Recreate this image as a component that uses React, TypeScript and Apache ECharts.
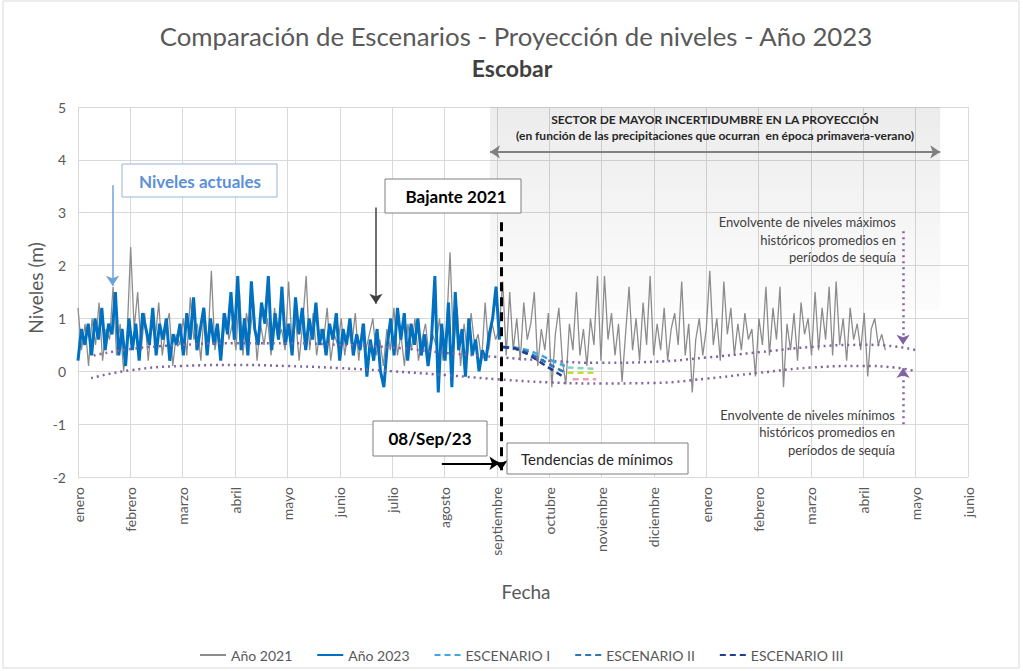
import { useEffect, useRef } from 'react';
import * as echarts from 'echarts';

const MONTHS = ['enero', 'febrero', 'marzo', 'abril', 'mayo', 'junio', 'julio', 'agosto', 'septiembre', 'octubre', 'noviembre', 'diciembre', 'enero', 'febrero', 'marzo', 'abril', 'mayo', 'junio'];

// Año 2021: valores cada ~2 días desde enero hasta fines de abril del año siguiente
const NIVELES_2021 = [
  1.2, 0.4, 0.9, 0.1, 1.0, 0.5, 1.3, 0.2, 0.8, 0.6, 1.6, 0.3, 0.9, 0.0, 0.7,
  2.35, 0.8, 1.5, 0.4, 1.1, 0.2, 0.9, 0.6, 1.3, 0.3, 0.8, 1.1, 0.1, 0.7, 0.5,
  1.0, 0.3, 1.4, 0.6, 0.9, 0.2, 1.2, 0.5, 1.9, 0.4, 0.8, 0.3, 1.1, 0.6, 0.9,
  0.4, 1.5, 0.3, 1.1, 0.7, 1.3, 0.2, 0.9, 0.5, 1.0, 0.3, 1.2, 0.6, 0.8, 0.4,
  1.7, 0.5, 1.0, 0.2, 0.9, 1.8, 0.4, 1.1, 0.3, 0.8, 0.6, 1.2, 0.2, 0.7, 0.5,
  1.0, 0.3, 0.8, 0.5, 1.1, 0.2, 0.9, 0.4, 0.7, 1.0, 0.3, 0.6, 0.1, 0.8, 0.4,
  1.2, 0.3, 0.7, 0.1, 0.9, 0.4, 1.0, 0.2, 0.6, 0.9, 0.3, 0.7, 0.5, 1.0, 0.2,
  0.8, 2.25, 0.4, 1.2, 0.1, 0.9, 0.3, 1.1, 0.5, 0.7, 0.2, 1.3, 0.4, 0.9, 0.6,
  0.8, 1.7, 0.3, 1.5, 0.4, 1.0, 0.2, 1.3, 0.6, 0.9, 1.5, 0.1, 0.8, 0.4, 1.1,
  -0.3, 0.7, 1.2, 0.2, -0.25, 0.9, 0.4, 1.5, 0.3, 0.8, 0.1, 1.0, 0.5, 1.8, 0.2,
  1.8, 0.6, 1.1, 0.3, 0.9, -0.2, 0.7, 1.6, 0.4, 1.0, 0.2, 1.3, 0.5, 1.8, 0.3,
  0.9, 0.4, 1.2, 0.2, 0.8, 1.1, 0.5, 1.7, 0.3, 0.9, -0.4, 0.6, 1.0, 0.3, 0.8,
  1.9, 0.5, 1.0, 0.2, 1.7, 0.7, 1.2, 0.3, 0.9, 0.4, 1.1, 0.6, 0.8, -0.1, 1.0,
  0.5, 1.6, 0.3, 1.2, 0.6, 1.6, -0.3, 0.9, 0.4, 1.1, 0.2, 1.3, 0.7, 1.0, 0.3,
  1.5, 0.4, 1.2, 0.6, 1.6, 0.3, 1.7, 0.5, 1.0, 0.2, 1.2, 0.6, 0.9, 0.4, 1.1,
  -0.1, 0.8, 1.0, 0.5, 0.7, 0.4,
];
const SPAN_2021 = 15.42; // meses cubiertos

// Año 2023: valores cada ~2 días desde enero hasta el 08/Sep
const NIVELES_2023 = [
  0.2, 0.8, 0.5, 0.9, 0.3, 1.0, 0.6, 1.2, 0.4, 0.9, 0.7, 1.5, 0.3, 0.8, 0.1,
  1.0, 0.4, 0.9, 0.2, 1.1, 0.8, 0.5, 1.2, 0.3, 0.9, 0.6, 1.0, 0.2, 0.7, 0.5,
  0.9, 0.3, 1.1, 0.6, 1.4, 0.4, 0.8, 1.2, 0.3, 1.0, 0.5, 0.9, 0.2, 1.1, 0.7,
  1.5, 0.6, 1.8, 0.4, 1.0, 0.3, 1.7, 0.8, 0.5, 1.3, 0.9, 1.8, 0.4, 1.1, 0.6,
  1.6, 0.5, 0.9, 0.3, 1.4, 0.7, 1.2, 0.4, 1.0, 0.6, 1.3, 0.5, 0.8, 0.3, 0.9,
  0.6, 1.1, 0.2, 0.8, 0.5, 1.0, 0.3, 0.7, 0.4, 0.9, -0.1, 0.6, 0.2, 0.8, 0.0,
  -0.3, 0.5, 1.0, 0.3, 1.2, 0.6, 1.1, 0.2, 0.9, 0.5, 1.0, 0.3, 0.7, 0.1, 0.6,
  1.8, -0.4, 0.9, 0.2, 1.3, -0.3, 1.5, 0.4, 0.8, -0.1, 1.0, 0.3, 0.6, 0.0, 0.4,
  0.2, 0.7, 1.0, 1.6, 0.6,
];
const SPAN_2023 = 8.05;

// Envolventes (mes, nivel)
const ENV_MAX_X = [0.3, 1, 2, 3, 4, 5, 6, 7, 8, 9, 10, 11, 12, 13, 14, 15, 15.6, 16];
const ENV_MAX_Y = [0.3, 0.42, 0.5, 0.53, 0.53, 0.5, 0.45, 0.35, 0.27, 0.2, 0.16, 0.18, 0.26, 0.36, 0.46, 0.5, 0.47, 0.4];
const ENV_MIN_X = [0.25, 1, 2, 3, 4, 5, 6, 7, 8, 9, 10, 11, 12, 13, 14, 15, 15.6, 16];
const ENV_MIN_Y = [-0.13, 0.02, 0.1, 0.12, 0.1, 0.06, 0.0, -0.07, -0.15, -0.21, -0.23, -0.22, -0.14, -0.03, 0.07, 0.1, 0.07, 0.0];

// Escenarios
const ESC_A_X = [8.12, 8.35, 8.6, 8.85, 9.1, 9.3];
const ESC1_A = [0.46, 0.45, 0.4, 0.3, 0.18, 0.1];
const ESC2_A = [0.46, 0.44, 0.36, 0.22, 0.08, -0.02];
const ESC3_A = [0.46, 0.43, 0.32, 0.16, 0.0, -0.12];
const ESC1_B_X = [9.35, 9.85];
const ESC1_B = [0.07, 0.05];
const ESC2_B_X = [9.35, 9.9];
const ESC2_B = [-0.03, -0.03];
const ESC3_B_X = [9.45, 9.9];
const ESC3_B = [-0.15, -0.15];

const FONT = 'Lato, "Noto Sans", sans-serif';

const pairs = (xs: number[], ys: number[]) => xs.map((x, i) => [x, ys[i]]);
const spread = (vals: number[], span: number) => vals.map((v, i) => [(i * span) / (vals.length - 1), v]);

function arrowSeries(name: string, from: number[], to: number[], color: string, width: number, type: any, both = false) {
  return {
    type: 'line',
    name,
    data: [],
    symbol: 'none',
    silent: true,
    markLine: {
      silent: true,
      animation: false,
      symbol: [both ? 'arrow' : 'none', 'arrow'],
      symbolSize: 10,
      label: { show: false },
      lineStyle: { color, width, type },
      emphasis: { disabled: true },
      data: [[{ coord: from }, { coord: to }]],
    },
  };
}

export default function App() {
  const ref = useRef<HTMLDivElement>(null);
  useEffect(() => {
    if (!ref.current) return;
    const chart = echarts.init(ref.current, undefined, { renderer: 'svg' });
    const dashLine = (name: string, data: number[][], color: string, dash: number[], z = 5) => ({
      type: 'line', name, data, symbol: 'none', z,
      itemStyle: { color },
      lineStyle: { color, width: 2.5, type: dash },
    });
    const option: any = {
      animation: false,
      backgroundColor: '#ffffff',
      textStyle: { fontFamily: FONT },
      grid: { left: 78, right: 55, top: 107, bottom: 194, containLabel: false },
      legend: {
        left: 194,
        top: 643,
        itemWidth: 26,
        itemHeight: 10,
        itemGap: 24,
        itemStyle: { opacity: 0 },
        textStyle: { fontSize: 14, color: '#595959', fontFamily: FONT },
        data: ['Año 2021', 'Año 2023', 'ESCENARIO I', 'ESCENARIO II', 'ESCENARIO III'],
      },
      xAxis: {
        type: 'value', min: 0, max: 17, interval: 1,
        axisLine: { show: true, lineStyle: { color: '#d9d9d9' } },
        axisTick: { show: false },
        splitLine: { show: true, lineStyle: { color: '#d9d9d9' } },
        axisLabel: {
          rotate: 90, margin: 10, fontSize: 14, color: '#595959', fontFamily: FONT,
          formatter: (v: number) => MONTHS[Math.round(v)] ?? '',
        },
      },
      yAxis: {
        type: 'value', min: -2, max: 5, interval: 1,
        axisLine: { show: false },
        axisTick: { show: false },
        splitLine: { show: true, lineStyle: { color: '#d9d9d9' } },
        axisLabel: { margin: 12, fontSize: 14, color: '#595959', fontFamily: FONT },
      },
      series: [
        {
          type: 'line', name: '_sector', data: [], symbol: 'none', silent: true,
          markArea: {
            silent: true,
            itemStyle: {
              color: new echarts.graphic.LinearGradient(0, 0, 0, 1, [
                { offset: 0, color: 'rgba(0,0,0,0.075)' },
                { offset: 1, color: 'rgba(0,0,0,0.01)' },
              ]),
            },
            data: [[{ xAxis: 7.87, yAxis: 5 }, { xAxis: 16.47, yAxis: 1.15 }]],
          },
        },
        {
          type: 'line', name: 'Año 2021', data: spread(NIVELES_2021, SPAN_2021), symbol: 'none', z: 2,
          lineStyle: { color: '#8c8c8c', width: 1.3 }, itemStyle: { color: '#8c8c8c' },
        },
        {
          type: 'line', name: 'Año 2023', data: spread(NIVELES_2023, SPAN_2023), symbol: 'none', z: 3,
          lineStyle: { color: '#0070c0', width: 3 }, itemStyle: { color: '#0070c0' },
        },
        {
          type: 'line', name: '_envmax', data: pairs(ENV_MAX_X, ENV_MAX_Y), symbol: 'none', smooth: true, z: 4,
          lineStyle: { color: '#8064a2', width: 2.5, type: [2, 4] },
        },
        {
          type: 'line', name: '_envmin', data: pairs(ENV_MIN_X, ENV_MIN_Y), symbol: 'none', smooth: true, z: 4,
          lineStyle: { color: '#8064a2', width: 2.5, type: [2, 4] },
        },
        dashLine('ESCENARIO I', pairs(ESC_A_X, ESC1_A), '#43a6df', [6, 4]),
        dashLine('ESCENARIO I', pairs(ESC1_B_X, ESC1_B), '#86d3c9', [6, 4]),
        dashLine('ESCENARIO II', pairs(ESC_A_X, ESC2_A), '#2e75b6', [6, 4]),
        dashLine('ESCENARIO II', pairs(ESC2_B_X, ESC2_B), '#c6dc3a', [6, 4]),
        dashLine('ESCENARIO III', pairs(ESC_A_X, ESC3_A), '#1f3f8f', [6, 4]),
        dashLine('ESCENARIO III', pairs(ESC3_B_X, ESC3_B), '#e8a0b4', [6, 4]),
        arrowSeries('_sep', [8.08, 2.82], [8.08, -1.87], '#000000', 3, [9, 6]),
        arrowSeries('_arrSector', [7.87, 4.15], [16.47, 4.15], '#808080', 2, 'solid', true),
        arrowSeries('_arrActuales', [0.66, 3.52], [0.66, 1.62], '#6fa0dc', 1.5, 'solid'),
        arrowSeries('_arrBajante', [5.69, 3.1], [5.69, 1.28], '#404040', 1.5, 'solid'),
        arrowSeries('_arrFecha', [6.95, -1.74], [8.05, -1.74], '#000000', 2, 'solid'),
        arrowSeries('_arrEnvMax', [15.76, 2.65], [15.76, 0.5], '#8064a2', 2.5, [2, 4]),
        arrowSeries('_arrEnvMin', [15.76, -1.0], [15.76, 0.06], '#8064a2', 2.5, [2, 4]),
      ],
      graphic: [
        { type: 'rect', shape: { x: 3, y: 1, width: 1016, height: 667 }, style: { fill: 'none', stroke: '#d9d9d9', lineWidth: 1 }, z: 0 },
        { type: 'text', x: 516, y: 36, z: 100, style: { text: 'Comparación de Escenarios - Proyección de niveles - Año 2023', align: 'center', verticalAlign: 'middle', fontSize: 25.8, fontFamily: FONT, fill: '#595959' } },
        { type: 'text', x: 512, y: 68, z: 100, style: { text: 'Escobar', align: 'center', verticalAlign: 'middle', fontSize: 23, fontWeight: 'bold', fontFamily: FONT, fill: '#404040' } },
        { type: 'text', x: 35, y: 288, rotation: Math.PI / 2, z: 100, style: { text: 'Niveles (m)', align: 'center', verticalAlign: 'middle', fontSize: 19, fontFamily: FONT, fill: '#595959' } },
        { type: 'text', x: 526, y: 591, z: 100, style: { text: 'Fecha', align: 'center', verticalAlign: 'middle', fontSize: 19, fontFamily: FONT, fill: '#595959' } },
        { type: 'text', x: 715, y: 119, z: 100, style: { text: 'SECTOR DE MAYOR INCERTIDUMBRE EN LA PROYECCIÓN', align: 'center', verticalAlign: 'middle', fontSize: 12, fontWeight: 'bold', fontFamily: FONT, fill: '#262626' } },
        { type: 'text', x: 715, y: 135, z: 100, style: { text: '(en función de las precipitaciones que ocurran  en época primavera-verano)', align: 'center', verticalAlign: 'middle', fontSize: 12, fontWeight: 'bold', fontFamily: FONT, fill: '#262626' } },
        { type: 'rect', z: 100, shape: { x: 122, y: 164, width: 155, height: 33 }, style: { fill: '#ffffff', stroke: '#95b3d7', lineWidth: 1 } },
        { type: 'text', x: 200, y: 181, z: 101, style: { text: 'Niveles actuales', align: 'center', verticalAlign: 'middle', fontSize: 17, fontWeight: 'bold', fontFamily: FONT, fill: '#5b8fd8' } },
        { type: 'rect', z: 100, shape: { x: 385, y: 179, width: 136, height: 34 }, style: { fill: '#ffffff', stroke: '#7f7f7f', lineWidth: 1 } },
        { type: 'text', x: 456, y: 196, z: 101, style: { text: 'Bajante 2021', align: 'center', verticalAlign: 'middle', fontSize: 17, fontWeight: 'bold', fontFamily: FONT, fill: '#000000' } },
        { type: 'rect', z: 100, shape: { x: 373, y: 421, width: 114, height: 35 }, style: { fill: '#ffffff', stroke: '#7f7f7f', lineWidth: 1 } },
        { type: 'text', x: 430, y: 438, z: 101, style: { text: '08/Sep/23', align: 'center', verticalAlign: 'middle', fontSize: 17, fontWeight: 'bold', fontFamily: FONT, fill: '#000000' } },
        { type: 'rect', z: 100, shape: { x: 507, y: 443, width: 181, height: 31 }, style: { fill: '#ffffff', stroke: '#7f7f7f', lineWidth: 1 } },
        { type: 'text', x: 597, y: 459, z: 101, style: { text: 'Tendencias de mínimos', align: 'center', verticalAlign: 'middle', fontSize: 15, fontFamily: FONT, fill: '#262626' } },
        { type: 'text', x: 896, y: 222, z: 100, style: { text: 'Envolvente de niveles máximos', align: 'right', verticalAlign: 'middle', fontSize: 13, fontFamily: FONT, fill: '#404040' } },
        { type: 'text', x: 896, y: 240, z: 100, style: { text: 'históricos promedios en', align: 'right', verticalAlign: 'middle', fontSize: 13, fontFamily: FONT, fill: '#404040' } },
        { type: 'text', x: 896, y: 257, z: 100, style: { text: 'períodos de sequía', align: 'right', verticalAlign: 'middle', fontSize: 13, fontFamily: FONT, fill: '#404040' } },
        { type: 'text', x: 895, y: 415, z: 100, style: { text: 'Envolvente de niveles mínimos', align: 'right', verticalAlign: 'middle', fontSize: 13, fontFamily: FONT, fill: '#404040' } },
        { type: 'text', x: 895, y: 432, z: 100, style: { text: 'históricos promedios en', align: 'right', verticalAlign: 'middle', fontSize: 13, fontFamily: FONT, fill: '#404040' } },
        { type: 'text', x: 895, y: 450, z: 100, style: { text: 'períodos de sequía', align: 'right', verticalAlign: 'middle', fontSize: 13, fontFamily: FONT, fill: '#404040' } },
      ],
    };
    chart.setOption(option);
    return () => chart.dispose();
  }, []);
  return <div ref={ref} style={{ position: 'fixed', left: 0, top: 0, width: 1023, height: 671 }} />;
}
